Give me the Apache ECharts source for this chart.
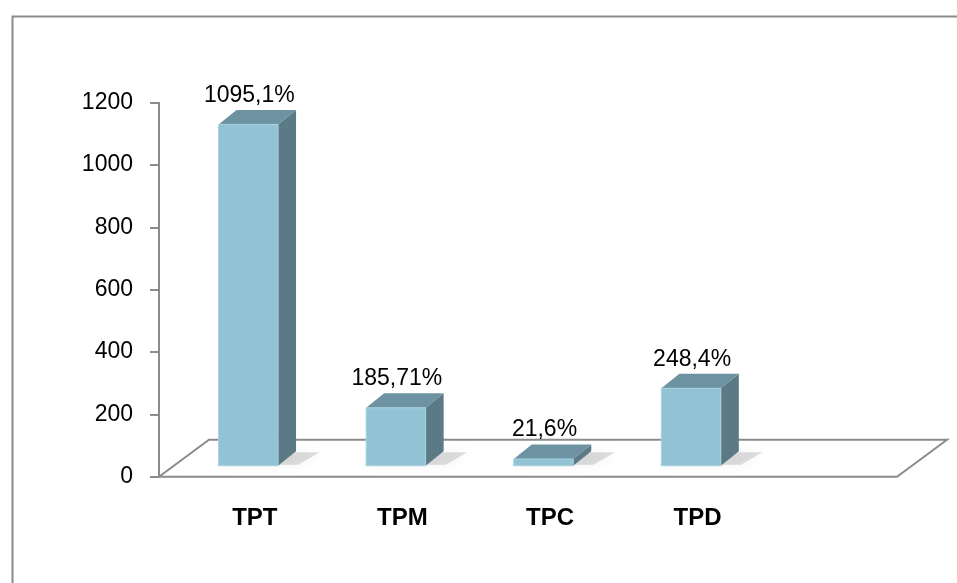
<!DOCTYPE html>
<html>
<head>
<meta charset="utf-8">
<script src="https://cdn.jsdelivr.net/npm/echarts@6/dist/echarts.min.js"></script>
<style>
  html, body { margin: 0; padding: 0; background: #fff; }
  #chart { width: 957px; height: 583px; }
</style>
</head>
<body>
<div id="chart"></div>
<script>
// data
const categories = ["TPT", "TPM", "TPC", "TPD", ""];
const values = [1095.1, 185.71, 21.6, 248.4];
const valueLabels = ["1095,1%", "185,71%", "21,6%", "248,4%"];
const yMin = 0;
const yMax = 1200;
const yStep = 200;

const FONT = "'Liberation Sans', Arial, sans-serif";
const FLOOR_DX = 50, FLOOR_DY = -37;   // floor depth
const BAR_DX = 18, BAR_DY = -14.5;     // bar depth
const BAR_SHIFT_Y = -11;               // bar sits a bit back on the floor

const chart = echarts.init(document.getElementById("chart"));

function renderFloor(params, api) {
  const cs = params.coordSys;
  const yb = cs.y + cs.height;
  const pts = [
    [cs.x, yb],
    [cs.x + cs.width, yb],
    [cs.x + cs.width + FLOOR_DX, yb + FLOOR_DY],
    [cs.x + FLOOR_DX, yb + FLOOR_DY],
  ];
  return {
    type: "polygon",
    shape: { points: pts },
    style: { fill: "#fff", stroke: "#8c8c8c", lineWidth: 2 },
  };
}

function renderBar(params, api) {
  const i = api.value(0);
  const v = api.value(1);
  const base = api.coord([i, 0]);
  const top = api.coord([i, v]);
  const band = api.size([1, 0])[0];
  const w = band * 0.403;
  const shiftX = band * 0.105;
  const x0 = base[0] + shiftX - w / 2;
  const x1 = x0 + w;
  const yb = base[1] + BAR_SHIFT_Y;
  const yt = top[1] + BAR_SHIFT_Y;

  return {
    type: "group",
    children: [
      // soft shadow on the floor
      {
        type: "polygon",
        shape: {
          points: [
            [x0 - 2, yb - 1],
            [x1 + 20, yb - 1],
            [x1 + BAR_DX + 24, yb + BAR_DY + 1],
            [x0 + BAR_DX, yb + BAR_DY + 1],
          ],
        },
        style: {
          fill: "rgba(0,0,0,0.12)",
          shadowBlur: 12,
          shadowColor: "rgba(0,0,0,0.45)",
        },
      },
      {
        type: "polygon",
        shape: {
          points: [
            [x1, yt],
            [x1 + BAR_DX, yt + BAR_DY],
            [x1 + BAR_DX, yb + BAR_DY],
            [x1, yb],
          ],
        },
        style: { fill: "#5b7a86" },
      },
      {
        type: "polygon",
        shape: {
          points: [
            [x0, yt],
            [x1, yt],
            [x1 + BAR_DX, yt + BAR_DY],
            [x0 + BAR_DX, yt + BAR_DY],
          ],
        },
        style: { fill: "#6d93a2" },
      },
      {
        type: "rect",
        shape: { x: x0, y: yt, width: w, height: yb - yt },
        style: { fill: "#92c3d4", stroke: "#a8d0de", lineWidth: 1 },
      },
      {
        type: "text",
        style: {
          x: x0 + w / 2 + 1,
          y: yt + BAR_DY - 3,
          text: valueLabels[i],
          fill: "#000",
          font: "23px " + FONT,
          align: "center",
          verticalAlign: "bottom",
        },
      },
    ],
  };
}

const option = {
  animation: false,
  backgroundColor: "#fff",
  graphic: [
    {
      type: "rect",
      left: 10,
      top: 14,
      shape: { width: 1000, height: 1000 },
      style: { fill: "none", stroke: "#8a8a8a", lineWidth: 2 },
      z: 0,
    },
  ],
  grid: {
    left: 159,
    right: 60,
    top: 102.7,
    bottom: 106.3,
  },
  xAxis: {
    type: "category",
    data: categories,
    axisLine: { show: false },
    axisTick: { show: false },
    axisLabel: {
      interval: 0,
      margin: 30,
      fontFamily: FONT,
      fontSize: 24,
      fontWeight: "bold",
      color: "#000",
      padding: [0, 0, 0, 44],
    },
    splitLine: { show: false },
  },
  yAxis: {
    type: "value",
    min: yMin,
    max: yMax,
    interval: yStep,
    axisLine: { show: true, lineStyle: { color: "#8c8c8c", width: 2 } },
    axisTick: { show: true, length: 9, lineStyle: { color: "#8c8c8c", width: 2 } },
    axisLabel: {
      margin: 26,
      fontFamily: FONT,
      fontSize: 23,
      color: "#000",
      formatter: (val) => String(val),
    },
    splitLine: { show: false },
  },
  series: [
    {
      type: "custom",
      renderItem: renderFloor,
      data: [[0, 0]],
      z: 1,
      silent: true,
    },
    {
      type: "custom",
      renderItem: renderBar,
      data: values.map((v, i) => [i, v]),
      z: 3,
      silent: true,
    },
  ],
};

chart.setOption(option);
</script>
</body>
</html>
